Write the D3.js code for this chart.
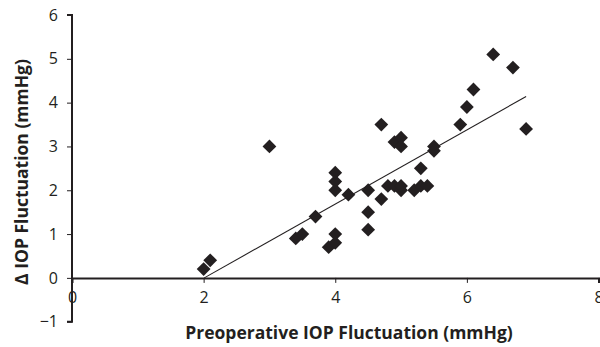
<!DOCTYPE html>
<html>
<head>
<meta charset="utf-8">
<script src="https://cdn.jsdelivr.net/npm/d3@7"></script>
<style>
  body { margin: 0; background: #fff; }
  text { font-family: "Open Sans", sans-serif; fill: #231f20; }
</style>
</head>
<body>
<svg id="chart" width="600" height="347"></svg>
<script>
// preoperative fluctuation (x) vs change in fluctuation (y)
var preFluct = [2.0, 2.1, 3.0, 3.4, 3.5, 3.7, 3.9, 4.0, 4.0, 4.0, 4.0, 4.0, 4.2,
  4.5, 4.5, 4.5, 4.7, 4.7, 4.8, 4.9, 4.9, 5.0, 5.0, 5.0, 5.0, 5.2, 5.3, 5.3,
  5.4, 5.5, 5.5, 5.9, 6.0, 6.1, 6.4, 6.7, 6.9];
var deltaFluct = [0.2, 0.4, 3.0, 0.9, 1.0, 1.4, 0.7, 0.8, 1.0, 2.0, 2.2, 2.4, 1.9,
  2.0, 1.5, 1.1, 3.5, 1.8, 2.1, 2.1, 3.1, 3.2, 3.0, 2.0, 2.1, 2.0, 2.1, 2.5,
  2.1, 3.0, 2.9, 3.5, 3.9, 4.3, 5.1, 4.8, 3.4];

// trend line ends
var trendX = [2.01, 6.9];
var trendY = [0, 4.14];

var xTicks = [0, 2, 4, 6, 8];
var yTicks = [-1, 0, 1, 2, 3, 4, 5, 6];

var svg = d3.select('#chart');

var x = d3.scaleLinear().domain([0, 8]).range([72, 598.5]);
var y = d3.scaleLinear().domain([-1, 6]).range([321.7, 15]);

// x axis sits on y = 0
var xAxis = svg.append('g')
  .attr('transform', 'translate(0,' + y(0) + ')')
  .call(d3.axisBottom(x).tickValues(xTicks).tickSize(5).tickPadding(9).tickFormat(d3.format('d')));
xAxis.select('.domain').attr('stroke', '#231f20').attr('stroke-width', 2);
xAxis.selectAll('.tick line').attr('stroke', '#231f20').attr('stroke-width', 1);
xAxis.selectAll('.tick text').style('font-size', '16px').attr('fill', '#231f20');

var yAxis = svg.append('g')
  .attr('transform', 'translate(' + x(0) + ',0)')
  .call(d3.axisLeft(y).tickValues(yTicks).tickSize(5).tickPadding(9)
    .tickFormat(function(d){ return d < 0 ? '\u2212' + Math.abs(d) : d; }));
yAxis.select('.domain').attr('stroke', '#231f20').attr('stroke-width', 2)
  .attr('d', 'M-5,' + y(6) + 'H0V' + y(-1) + 'H-5');
yAxis.selectAll('.tick line').attr('stroke', '#231f20').attr('stroke-width', 1);
yAxis.selectAll('.tick text').style('font-size', '16px').attr('fill', '#231f20');

// trend line
svg.append('line')
  .attr('x1', x(trendX[0])).attr('y1', y(trendY[0]))
  .attr('x2', x(trendX[1])).attr('y2', y(trendY[1]))
  .attr('stroke', '#231f20').attr('stroke-width', 1.1);

// diamonds
var diamond = d3.symbol().type(d3.symbolSquare).size(95);
svg.append('g').selectAll('path')
  .data(preFluct)
  .enter().append('path')
  .attr('d', diamond)
  .attr('transform', function(d, i){
    return 'translate(' + x(d) + ',' + y(deltaFluct[i]) + ') rotate(45)';
  })
  .attr('fill', '#231f20');

// axis titles
svg.append('text')
  .attr('x', 349).attr('y', 339)
  .attr('text-anchor', 'middle')
  .style('font-size', '17.5px').style('font-weight', 'bold')
  .text('Preoperative IOP Fluctuation (mmHg)');

svg.append('text')
  .attr('transform', 'translate(28,172) rotate(-90)')
  .attr('text-anchor', 'middle')
  .style('font-size', '17.5px').style('font-weight', 'bold')
  .text('\u0394 IOP Fluctuation (mmHg)');
</script>
</body>
</html>
